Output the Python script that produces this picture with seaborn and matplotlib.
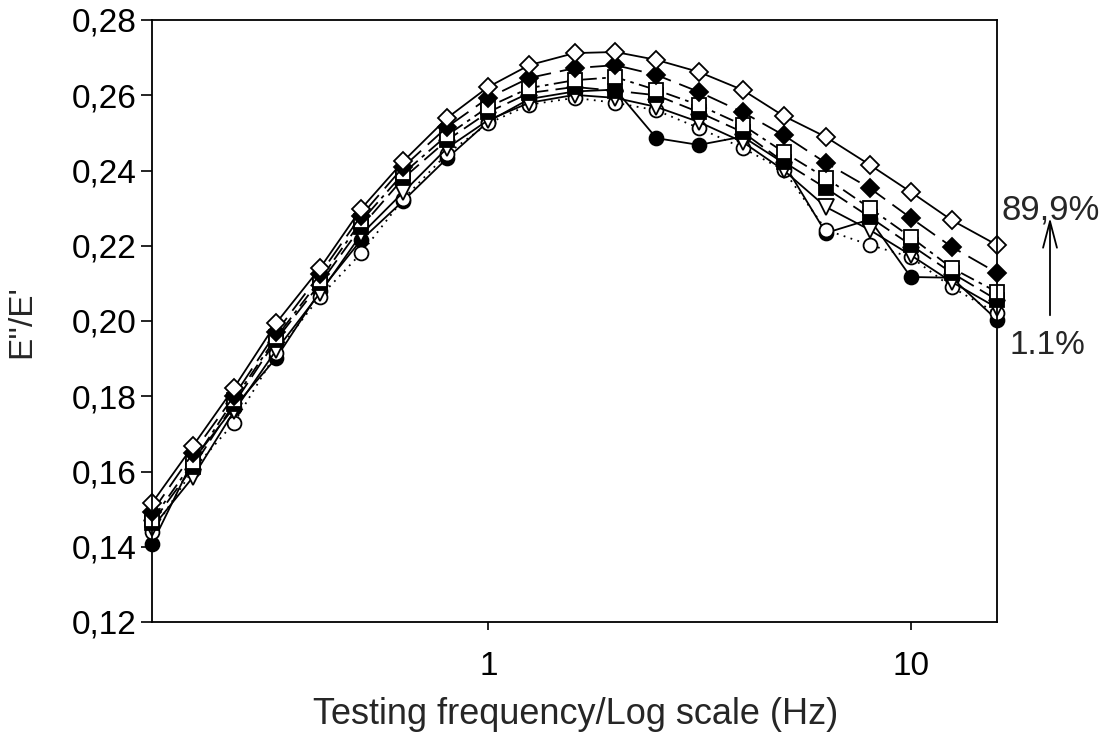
import matplotlib
matplotlib.use("Agg")
import matplotlib.pyplot as plt
import seaborn as sns
import pandas as pd
import numpy as np

freq = [0.16, 0.2, 0.25, 0.315, 0.4, 0.5, 0.63, 0.8, 1, 1.25, 1.6, 2, 2.5,
        3.15, 4, 5, 6.3, 8, 10, 12.5, 16]

s_open_diamond = [0.1516, 0.1668, 0.1822, 0.1995, 0.2141, 0.2298, 0.2425, 0.2540,
                  0.2622, 0.2680, 0.2712, 0.2715, 0.2694, 0.2662, 0.2614, 0.2545,
                  0.2489, 0.2415, 0.2343, 0.2268, 0.2202]
s_filled_diamond = [0.1492, 0.1649, 0.1800, 0.1971, 0.2125, 0.2280, 0.2410, 0.2516,
                    0.2593, 0.2646, 0.2672, 0.2680, 0.2654, 0.2609, 0.2555, 0.2494,
                    0.2420, 0.2353, 0.2274, 0.2197, 0.2128]
s_open_square = [0.1471, 0.1625, 0.1790, 0.1957, 0.2110, 0.2265, 0.2393, 0.2494,
                 0.2569, 0.2619, 0.2640, 0.2648, 0.2614, 0.2574, 0.2521, 0.2449,
                 0.2380, 0.2300, 0.2223, 0.2141, 0.2077]
s_filled_square = [0.1463, 0.1612, 0.1780, 0.1950, 0.2100, 0.2250, 0.2380, 0.2481,
                   0.2555, 0.2606, 0.2622, 0.2612, 0.2600, 0.2555, 0.2502, 0.2423,
                   0.2353, 0.2276, 0.2202, 0.2128, 0.2056]
s_triangle = [0.1450, 0.1585, 0.1760, 0.1923, 0.2075, 0.2230, 0.2343, 0.2460,
              0.2534, 0.2580, 0.2601, 0.2593, 0.2569, 0.2529, 0.2476, 0.2401,
              0.2303, 0.2242, 0.2175, 0.2104, 0.2035]
s_open_circle = [0.1439, 0.1605, 0.1729, 0.1915, 0.2065, 0.2180, 0.2325, 0.2445,
                 0.2525, 0.2575, 0.2593, 0.2580, 0.2560, 0.2513, 0.2460, 0.2401,
                 0.2242, 0.2202, 0.2170, 0.2090, 0.2020]
s_filled_circle = [0.1407, 0.1630, 0.1770, 0.1902, 0.2080, 0.2215, 0.2320, 0.2433,
                   0.2530, 0.2590, 0.2610, 0.2615, 0.2486, 0.2468, 0.2490, 0.2420,
                   0.2234, 0.2270, 0.2117, 0.2115, 0.2003]

y_ticks = [0.12, 0.14, 0.16, 0.18, 0.20, 0.22, 0.24, 0.26, 0.28]
y_tick_labels = ["0,12", "0,14", "0,16", "0,18", "0,20", "0,22", "0,24", "0,26", "0,28"]
x_ticks = [1, 10]
x_tick_labels = ["1", "10"]

sns.set_style("white")
plt.rcParams['font.family'] = ['Liberation Sans', 'DejaVu Sans']

fig = plt.figure(figsize=(11.13, 7.35), dpi=100)
ax = fig.add_axes([152/1113, 1-622/735, (997-152)/1113, (622-20)/735])

series = [
    (s_filled_circle, 'o', 'black', '-', 10),
    (s_open_circle, 'o', 'white', (0, (1, 3)), 10),
    (s_triangle, 'v', 'white', '-', 11),
    (s_filled_square, 's', 'black', (0, (10, 4)), 9.5),
    (s_open_square, 's', 'white', (0, (8, 3, 2, 3)), 9.5),
    (s_filled_diamond, 'D', 'black', (0, (12, 5)), 9),
    (s_open_diamond, 'D', 'white', '-', 9.5),
]

for vals, mk, fc, ls, ms in series:
    df = pd.DataFrame({"f": freq, "v": vals})
    sns.lineplot(data=df, x="f", y="v", ax=ax, color="black", linewidth=1.3,
                 linestyle=ls, marker=mk, markersize=ms, markerfacecolor=fc,
                 markeredgecolor="black", markeredgewidth=1.3, sort=False,
                 clip_on=False)

ax.set_xscale("log")
ax.set_xlim(0.16, 16)
ax.set_ylim(0.12, 0.28)
ax.set_xticks(x_ticks)
ax.set_xticklabels(x_tick_labels)
ax.xaxis.set_minor_locator(matplotlib.ticker.NullLocator())
ax.set_yticks(y_ticks)
ax.set_yticklabels(y_tick_labels)
ax.tick_params(axis="y", direction="out", length=8, width=1.2, labelsize=24,
               colors="black", pad=3, left=True)
ax.tick_params(axis="x", direction="out", length=6, width=1.2, labelsize=24,
               colors="black", pad=15, bottom=True)
for sp in ax.spines.values():
    sp.set_visible(True)
    sp.set_color("black")
    sp.set_linewidth(1.3)

ax.set_xlabel("")
ax.set_ylabel("")
fig.text(22/1113, 1-322/735, "E''/E'", fontsize=24, rotation=90,
         ha="center", va="center")
fig.text(576/1113, 1-715/735, "Testing frequency/Log scale (Hz)", fontsize=26,
         ha="center", va="center")

# range annotation
ax.annotate("", xy=(1050/1113, 1-215/735), xytext=(1050/1113, 1-318/735),
            xycoords="figure fraction", textcoords="figure fraction",
            arrowprops=dict(arrowstyle="->,head_length=1.9,head_width=0.5",
                            color="black", lw=1.3))
fig.text(1051/1113, 1-210/735, "89,9%", fontsize=25, ha="center", va="center")
fig.text(1047/1113, 1-345/735, "1.1%", fontsize=24, ha="center", va="center")

fig.savefig("out.png", dpi=100)
